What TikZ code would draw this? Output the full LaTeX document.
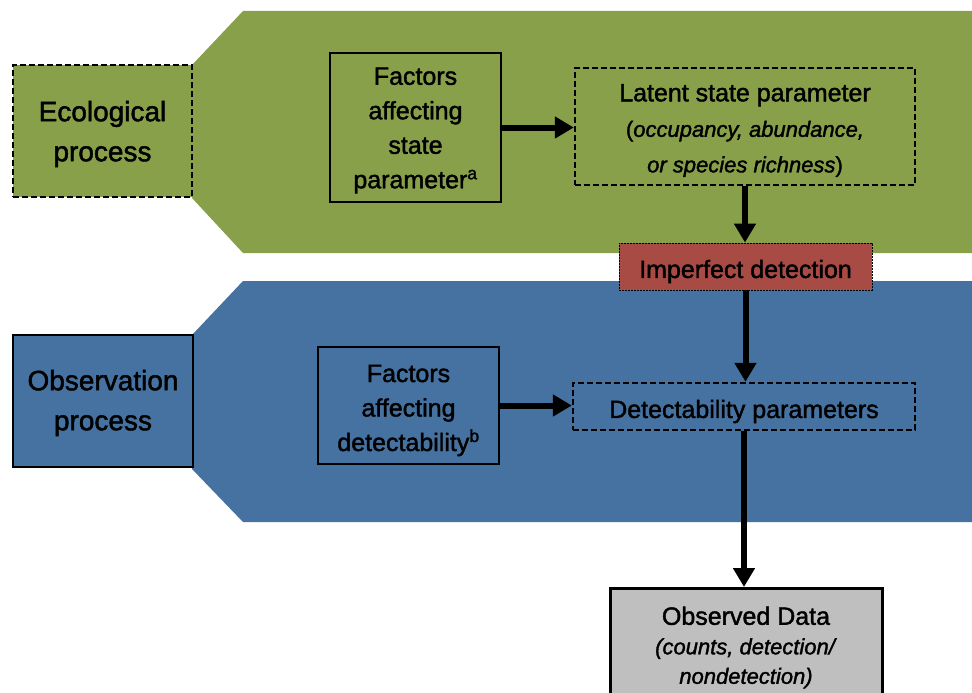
\documentclass[tikz,border=0pt]{standalone}
\usepackage{fontspec}
\setmainfont{Liberation Sans}[FakeBold=1.6]
\usetikzlibrary{arrows.meta}
\definecolor{ecogreen}{RGB}{137,160,74}
\definecolor{obsblue}{RGB}{69,114,160}
\definecolor{detred}{RGB}{168,75,69}
\definecolor{datagray}{RGB}{191,191,191}
\begin{document}
\begin{tikzpicture}[x=1pt,y=-1pt,
  bigtxt/.style={font=\fontsize{28}{40}\selectfont, align=center},
  midtxt/.style={font=\fontsize{25}{34.5}\selectfont, align=center},
  dashbox/.style={draw=black, line width=2.3pt, dash pattern=on 6pt off 3pt, inner sep=0pt},
  solidbox/.style={draw=black, line width=2.6pt, inner sep=0pt},
  arr/.style={line width=6pt, -{Triangle[width=21pt,length=19pt]}}]
\useasboundingbox (0,0) rectangle (972,693);
\clip (0,0) rectangle (972,693);
% bands
\fill[ecogreen] (243,11) -- (972,11) -- (972,253) -- (243,253) -- (192,198) -- (192,65) -- cycle;
\fill[obsblue] (243,281) -- (972,281) -- (972,522) -- (243,522) -- (192,469) -- (192,335) -- cycle;
% left labels
\node[dashbox, fill=ecogreen, minimum width=179pt, minimum height=132pt,
  label={[bigtxt, yshift=-3pt]center:Ecological\\process}] (eco) at (102.5,131) {};
\node[solidbox, fill=obsblue, minimum width=180pt, minimum height=132pt,
  label={[bigtxt, yshift=-2pt]center:Observation\\process}] (obsproc) at (103,401) {};
% ecological process content
\node[solidbox, minimum width=171pt, minimum height=149pt,
  label={[midtxt, yshift=-3pt]center:Factors\\affecting\\state\\parameter\textsuperscript{a}}] (factS) at (415.5,127.5) {};
\node[dashbox, minimum width=340pt, minimum height=117pt,
  label={[midtxt, yshift=-4pt]center:Latent state parameter\\[1pt]{\fontsize{22}{30}\selectfont(\textit{occupancy, abundance,}}\\[1pt]{\fontsize{22}{30}\selectfont\textit{or species richness})}}] (latent) at (745,126.5) {};
\node[draw=black, line width=0.8pt, dash pattern=on 2pt off 1pt, fill=detred, minimum width=253pt, minimum height=47pt, inner sep=0pt,
  label={[midtxt, yshift=-5pt]center:Imperfect detection}] (imperf) at (745.5,266.5) {};
% observation process content
\node[solidbox, minimum width=181pt, minimum height=117pt,
  label={[midtxt, yshift=-5pt]center:Factors\\affecting\\detectability\textsuperscript{b}}] (factD) at (408.5,405.5) {};
\node[dashbox, minimum width=342pt, minimum height=47pt,
  label={[midtxt, yshift=-5pt]center:Detectability parameters}] (detect) at (744,406.5) {};
% observed data
\node[draw=black, line width=3pt, fill=datagray, anchor=north, minimum width=272pt, minimum height=116pt, inner sep=0pt,
  label={[midtxt, yshift=-1pt]center:Observed Data\\[-5pt]{\fontsize{22}{30}\selectfont\textit{(counts, detection/}}\\[-5pt]{\fontsize{22}{30}\selectfont\textit{nondetection)}}}] (obs) at (746,587) {};
% arrows
\draw[arr] (factS.east) -- (factS.east -| latent.west);
\draw[arr] (factD.east) -- (factD.east -| detect.west);
\draw[arr] (latent.south) -- (latent.south |- imperf.north);
\draw[arr] (imperf.south) -- (imperf.south |- detect.north);
\draw[arr] (detect.south) -- (detect.south |- obs.north);
\end{tikzpicture}
\end{document}
